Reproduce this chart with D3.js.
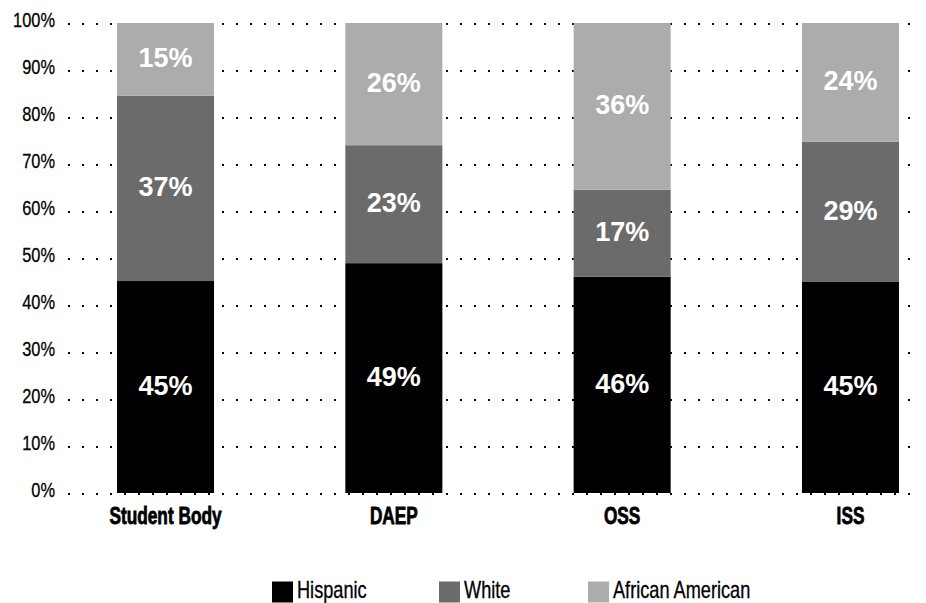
<!DOCTYPE html>
<html><head><meta charset="utf-8">
<script src="https://cdn.jsdelivr.net/npm/d3@7"></script>
<style>
body{margin:0;background:#fff;}
svg{display:block;}
text{font-family:"Liberation Sans",Arial,sans-serif;}
</style></head><body>
<svg id="c" width="926" height="603"></svg>
<script>
const categories = ["Student Body","DAEP","OSS","ISS"];
const seriesNames = ["Hispanic","White","African American"];
// printed labels (%)
const hispanic = [45,49,46,45];
const white = [37,23,17,29];
const africanAmerican = [15,26,36,24];
// segment lengths as drawn in the picture (%)
const hispanicBar = [45.1,48.9,46.0,44.9];
const whiteBar = [39.4,25.1,18.5,29.8];
const africanAmericanBar = [15.5,26.0,35.5,25.3];
const yTicks = [0,10,20,30,40,50,60,70,80,90,100];
const colors = ["#000000","#6b6b6b","#acacac"];

const labelArrays = {"Hispanic":hispanic,"White":white,"African American":africanAmerican};
const rows = categories.map((c,i)=>({idx:i, cat:c, "Hispanic":hispanicBar[i], "White":whiteBar[i], "African American":africanAmericanBar[i]}));
const stack = d3.stack().keys(seriesNames)(rows);

const svg = d3.select("#c");
const x = d3.scaleBand().domain(categories).range([51.35,964.65]).paddingInner(0.575).paddingOuter(0.2875);
const y = d3.scaleLinear().domain([0,100]).range([493,23]);

// dotted gridlines
svg.append("g").selectAll("line").data(yTicks).join("line")
  .attr("x1",68).attr("x2",918)
  .attr("y1",d=>y(d)+1).attr("y2",d=>y(d)+1)
  .attr("stroke","#000").attr("stroke-width",2)
  .attr("stroke-dasharray","2,12");

// y tick labels
svg.append("g").selectAll("text").data(yTicks).join("text")
  .attr("transform",d=>`translate(55,${y(d)+4}) scale(0.78,1)`)
  .attr("text-anchor","end")
  .attr("font-size",21)
  .attr("fill","#000")
  .attr("stroke","#000").attr("stroke-width",0.3)
  .text(d=>d+"%");

// bars
const g = svg.append("g");
stack.forEach((s,si)=>{
  g.append("g").selectAll("rect").data(s).join("rect")
    .attr("x",d=>x(d.data.cat))
    .attr("width",x.bandwidth())
    .attr("y",d=>y(d[1]))
    .attr("height",d=>y(d[0])-y(d[1]))
    .attr("fill",colors[si]);
  g.append("g").selectAll("text").data(s).join("text")
    .attr("x",d=>x(d.data.cat)+x.bandwidth()/2)
    .attr("y",d=>(y(d[0])+y(d[1]))/2+8)
    .attr("text-anchor","middle")
    .attr("font-weight","bold")
    .attr("font-size",27)
    .attr("fill","#fff")
    .text(d=>labelArrays[s.key][d.data.idx]+"%");
});

// category labels
svg.append("g").selectAll("text").data(categories).join("text")
  .attr("transform",d=>`translate(${x(d)+x.bandwidth()/2},523.5) scale(0.75,1)`)
  .attr("text-anchor","middle")
  .attr("font-weight","bold")
  .attr("font-size",23)
  .attr("fill","#000")
  .attr("stroke","#000").attr("stroke-width",0.8)
  .text(d=>d);

// legend
const legendX = [272,439,588];
const lg = svg.append("g");
seriesNames.forEach((n,i)=>{
  lg.append("rect").attr("x",legendX[i]).attr("y",581.5).attr("width",21).attr("height",21).attr("fill",colors[i]);
  lg.append("text").attr("transform",`translate(${legendX[i]+25},597.5) scale(0.79,1)`)
    .attr("font-size",23).attr("fill","#000")
    .attr("stroke","#000").attr("stroke-width",0.3)
    .text(n);
});
</script>
</body></html>
